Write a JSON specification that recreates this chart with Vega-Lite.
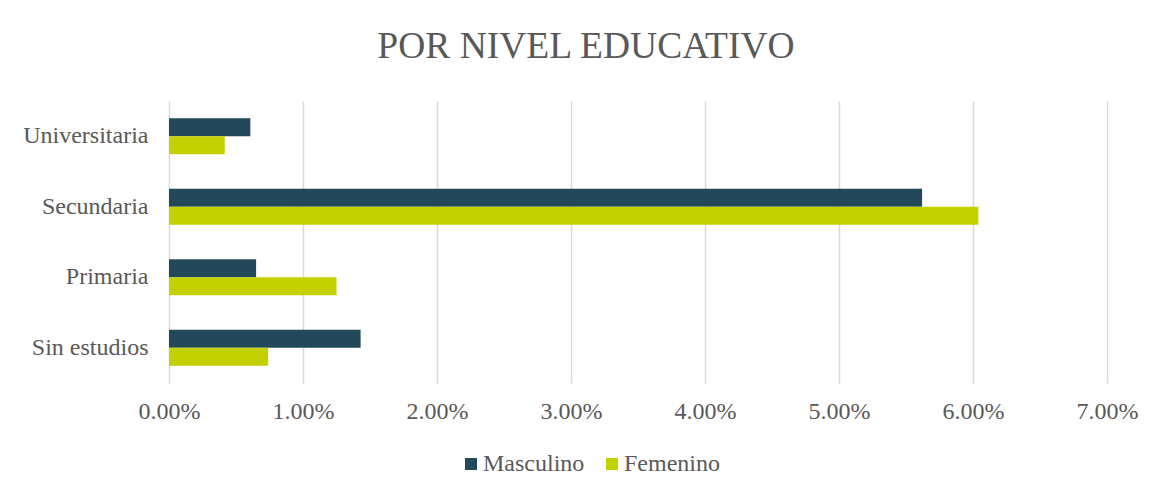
{
  "$schema": "https://vega.github.io/schema/vega-lite/v6.json",
  "autosize": {"type": "none"},
  "width": 938,
  "height": 282,
  "padding": {"left": 169, "top": 101, "right": 56, "bottom": 113},
  "background": "white",
  "title": {
    "text": "POR NIVEL EDUCATIVO",
    "font": "Times New Roman, Liberation Serif, serif",
    "fontSize": 37.5,
    "fontWeight": "normal",
    "color": "#595959",
    "anchor": "middle",
    "dx": -52,
    "offset": 36
  },
  "data": {
    "values": [
      {"nivel": "Universitaria", "sexo": "Masculino", "valor": 0.00607},
      {"nivel": "Universitaria", "sexo": "Femenino", "valor": 0.00416},
      {"nivel": "Secundaria", "sexo": "Masculino", "valor": 0.0562},
      {"nivel": "Secundaria", "sexo": "Femenino", "valor": 0.0604},
      {"nivel": "Primaria", "sexo": "Masculino", "valor": 0.0065},
      {"nivel": "Primaria", "sexo": "Femenino", "valor": 0.0125},
      {"nivel": "Sin estudios", "sexo": "Masculino", "valor": 0.0143},
      {"nivel": "Sin estudios", "sexo": "Femenino", "valor": 0.0074}
    ]
  },
  "mark": {"type": "bar"},
  "encoding": {
    "y": {
      "field": "nivel",
      "type": "nominal",
      "sort": ["Universitaria", "Secundaria", "Primaria", "Sin estudios"],
      "scale": {"paddingInner": 0.49, "paddingOuter": 0.245},
      "axis": {
        "title": null,
        "ticks": false,
        "domain": false,
        "labelPadding": 21,
        "labelFont": "Times New Roman, Liberation Serif, serif",
        "labelFontSize": 24,
        "labelColor": "#595959"
      }
    },
    "yOffset": {
      "field": "sexo",
      "type": "nominal",
      "sort": ["Masculino", "Femenino"],
      "scale": {"paddingInner": 0, "paddingOuter": 0}
    },
    "x": {
      "field": "valor",
      "type": "quantitative",
      "scale": {"domain": [0, 0.07], "nice": false},
      "axis": {
        "title": null,
        "values": [0, 0.01, 0.02, 0.03, 0.04, 0.05, 0.06, 0.07],
        "format": ".2%",
        "ticks": false,
        "domain": false,
        "grid": true,
        "gridColor": "#d9d9d9",
        "gridWidth": 1.5,
        "labelPadding": 16,
        "labelFont": "Times New Roman, Liberation Serif, serif",
        "labelFontSize": 24,
        "labelColor": "#595959",
        "labelFlush": false
      }
    },
    "color": {
      "field": "sexo",
      "type": "nominal",
      "sort": ["Masculino", "Femenino"],
      "scale": {"domain": ["Masculino", "Femenino"], "range": ["#22485a", "#c3d100"]},
      "legend": {
        "title": null,
        "orient": "none",
        "direction": "horizontal",
        "legendX": 290,
        "legendY": 351,
        "symbolType": "square",
        "symbolSize": 144,
        "symbolStrokeWidth": 0,
        "labelFont": "Times New Roman, Liberation Serif, serif",
        "labelFontSize": 24,
        "labelColor": "#595959",
        "labelOffset": 0,
        "columnPadding": 15
      }
    }
  },
  "config": {"view": {"stroke": null}}
}
